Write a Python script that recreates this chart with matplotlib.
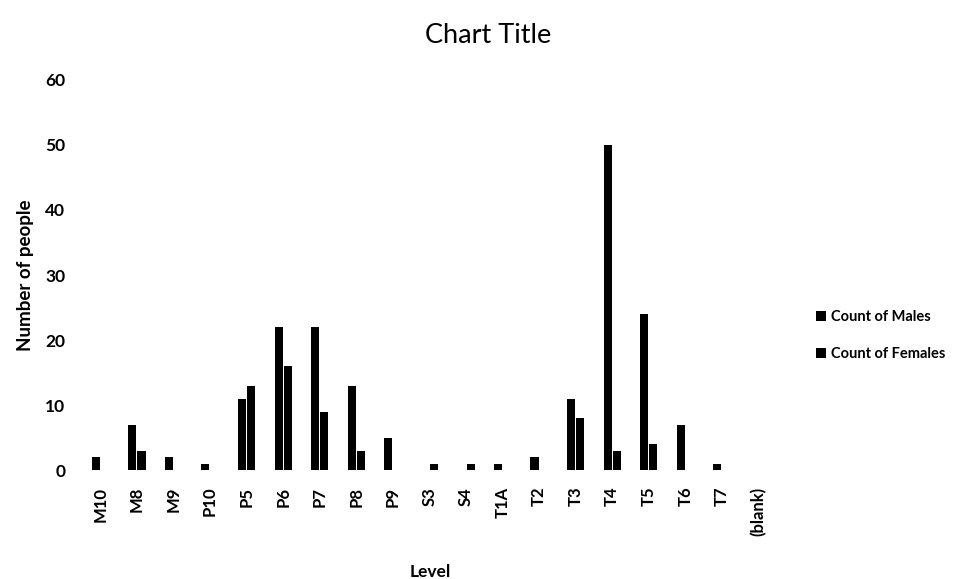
import numpy as np
import matplotlib
matplotlib.use('Agg')
import matplotlib.pyplot as plt

levels = ['M10', 'M8', 'M9', 'P10', 'P5', 'P6', 'P7', 'P8', 'P9', 'S3',
          'S4', 'T1A', 'T2', 'T3', 'T4', 'T5', 'T6', 'T7', '(blank)']
males = [2, 7, 2, 1, 11, 22, 22, 13, 5, 0, 0, 1, 2, 11, 50, 24, 7, 1, 0]
females = [0, 3, 0, 0, 13, 16, 9, 3, 0, 1, 1, 0, 0, 8, 3, 4, 0, 0, 0]

plt.rcParams['font.family'] = ['Lato', 'DejaVu Sans']

fig = plt.figure(figsize=(9.77, 5.79), dpi=100)
ax = fig.add_axes([0.084, 0.188, 0.711, 0.674])

x = np.arange(len(levels))
w = 0.22
ax.bar(x - 0.125, males, w, color='black', label='Count of Males')
ax.bar(x + 0.125, females, w, color='black', label='Count of Females')

ax.set_xlim(-0.5, len(levels) - 0.5)
ax.set_ylim(0, 60)
ax.set_yticks(range(0, 61, 10))
ax.set_xticks(x)
ax.set_xticklabels(levels, rotation=90, fontsize=12, fontweight='bold')
for t in ax.get_yticklabels():
    t.set_fontsize(12.5)
    t.set_fontweight('bold')
ax.tick_params(length=0, pad=12)
for s in ax.spines.values():
    s.set_visible(False)

ax.set_ylabel('Number of people', fontsize=13.5, fontweight='bold', labelpad=8)
fig.text(0.44, 0.004, 'Level', fontsize=12.5, fontweight='bold', ha='center')
fig.text(0.50, 0.925, 'Chart Title', fontsize=19.5, ha='center')

fig.legend(loc='center left', bbox_to_anchor=(0.822, 0.42), frameon=False,
           handlelength=0.7, handleheight=0.7, handletextpad=0.3,
           labelspacing=1.6, prop={'size': 10.5, 'weight': 'bold'})

fig.savefig('out.png', dpi=100)
